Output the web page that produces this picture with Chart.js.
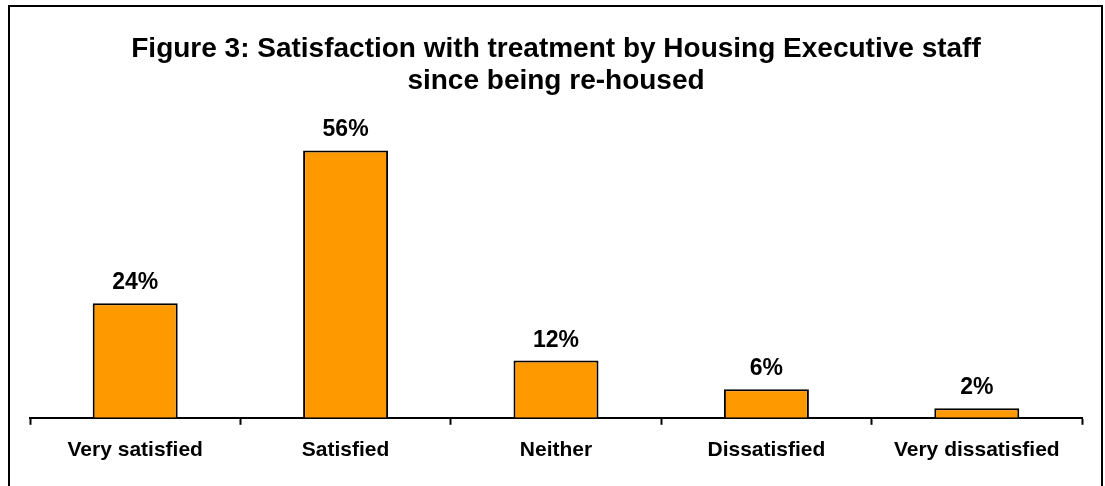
<!DOCTYPE html>
<html>
<head>
<meta charset="utf-8">
<script src="https://cdn.jsdelivr.net/npm/chart.js@4"></script>
<style>
  html, body { margin: 0; padding: 0; background: #fff; }
  #wrap { width: 1105px; height: 486px; }
</style>
</head>
<body>
<div id="wrap"><canvas id="satChart" width="1105" height="486"></canvas></div>
<script>
// data
const categories = ['Very satisfied', 'Satisfied', 'Neither', 'Dissatisfied', 'Very dissatisfied'];
const percents = [24, 56, 12, 6, 2];
const titleLines = ['Figure 3: Satisfaction with treatment by Housing Executive staff', 'since being re-housed'];

const FONT = "Arial, 'Liberation Sans', sans-serif";

// outer frame (bottom edge is cut off in the original)
const framePlugin = {
    id: 'frame',
    beforeDraw(chart) {
        const c = chart.ctx;
        c.save();
        c.fillStyle = '#fff';
        c.fillRect(0, 0, chart.width, chart.height);
        c.strokeStyle = '#000';
        c.lineWidth = 2;
        c.beginPath();
        c.moveTo(9, chart.height + 2);
        c.lineTo(9, 6);
        c.lineTo(1102, 6);
        c.lineTo(1102, chart.height + 2);
        c.stroke();
        c.restore();
    }
};

// percent labels above bars
const valueLabels = {
    id: 'valueLabels',
    afterDatasetsDraw(chart) {
        const c = chart.ctx;
        const meta = chart.getDatasetMeta(0);
        c.save();
        c.font = 'bold 23px ' + FONT;
        c.fillStyle = '#000';
        c.textAlign = 'center';
        c.textBaseline = 'alphabetic';
        meta.data.forEach(function(bar, i) {
            c.fillText(percents[i] + '%', bar.x, bar.y - 14);
        });
        c.restore();
    }
};

new Chart(document.getElementById('satChart'), {
    type: 'bar',
    data: {
        labels: categories,
        datasets: [{
            data: percents,
            backgroundColor: '#FF9900',
            borderColor: '#000',
            borderWidth: 2,
            borderSkipped: 'bottom',
            barPercentage: 0.404,
            categoryPercentage: 1
        }]
    },
    options: {
        responsive: false,
        animation: false,
        layout: { padding: { left: 30, right: 23, top: 0, bottom: 10 } },
        plugins: {
            legend: { display: false },
            tooltip: { enabled: false },
            title: {
                display: true,
                text: titleLines,
                color: '#000',
                font: { family: FONT, size: 28, weight: 'bold', lineHeight: 1.15 },
                padding: { top: 33, bottom: 34 }
            }
        },
        scales: {
            x: {
                offset: true,
                grid: {
                    display: true,
                    offset: true,
                    drawOnChartArea: false,
                    drawTicks: true,
                    tickLength: 7,
                    tickWidth: 2,
                    tickColor: '#000'
                },
                border: { display: true, color: '#000', width: 2 },
                ticks: {
                    color: '#000',
                    padding: 13,
                    maxRotation: 0,
                    font: { family: FONT, size: 21, weight: 'bold' }
                }
            },
            y: {
                display: false,
                min: 0,
                max: 60
            }
        }
    },
    plugins: [framePlugin, valueLabels]
});
</script>
</body>
</html>
